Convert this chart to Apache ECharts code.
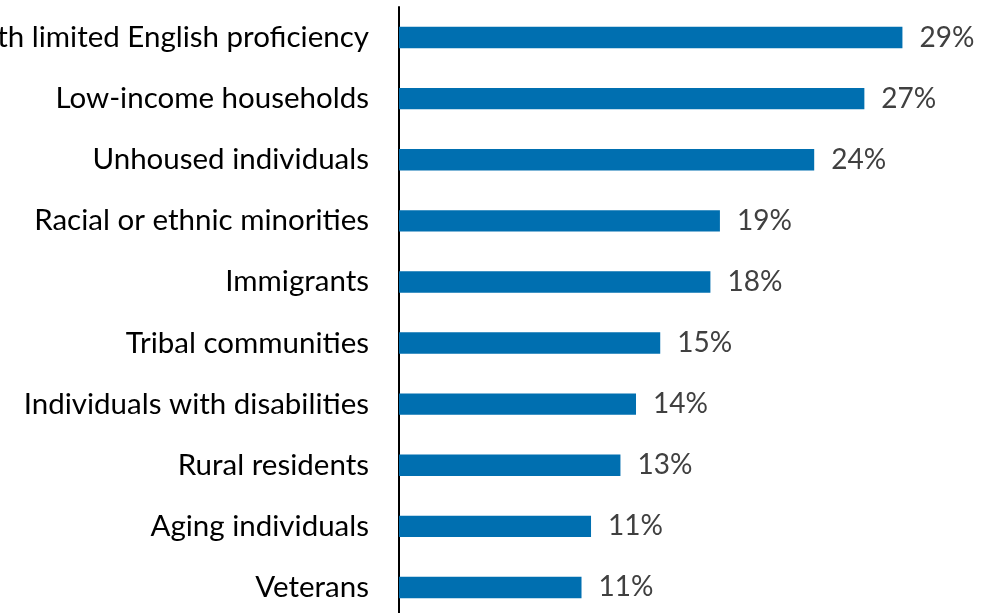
<!DOCTYPE html>
<html>
<head>
<meta charset="utf-8">
<script src="https://cdn.jsdelivr.net/npm/echarts@6/dist/echarts.min.js"></script>
<style>
html,body{margin:0;padding:0;background:#fff;}
#chart{width:1004px;height:613px;}
</style>
</head>
<body>
<div id="chart"></div>
<script>
const categories = [
  "Individuals with limited English proficiency",
  "Low-income households",
  "Unhoused individuals",
  "Racial or ethnic minorities",
  "Immigrants",
  "Tribal communities",
  "Individuals with disabilities",
  "Rural residents",
  "Aging individuals",
  "Veterans"
];
const values = [29.1, 26.9, 24.0, 18.55, 18.0, 15.1, 13.7, 12.8, 11.1, 10.55];

const chart = echarts.init(document.getElementById('chart'), null, {renderer: 'canvas'});
chart.setOption({
  animation: false,
  backgroundColor: '#ffffff',
  grid: {left: 399, top: 7, width: 519, height: 611, containLabel: false, outerBoundsMode: 'none'},
  xAxis: {
    type: 'value', min: 0, max: 30,
    show: false
  },
  yAxis: {
    type: 'category',
    data: categories,
    inverse: true,
    axisLine: {show: true, lineStyle: {color: '#000000', width: 2}},
    axisTick: {show: false},
    axisLabel: {color: '#000000', fontFamily: 'Lato', fontSize: 29.5, margin: 30}
  },
  series: [{
    type: 'bar',
    data: values,
    barCategoryGap: '65%',
    itemStyle: {color: '#006FB0'},
    label: {
      show: true, position: 'right', distance: 17,
      color: '#404040', fontFamily: 'Lato', fontSize: 28,
      formatter: p => Math.round(p.value) + '%'
    }
  }]
});
</script>
</body>
</html>
